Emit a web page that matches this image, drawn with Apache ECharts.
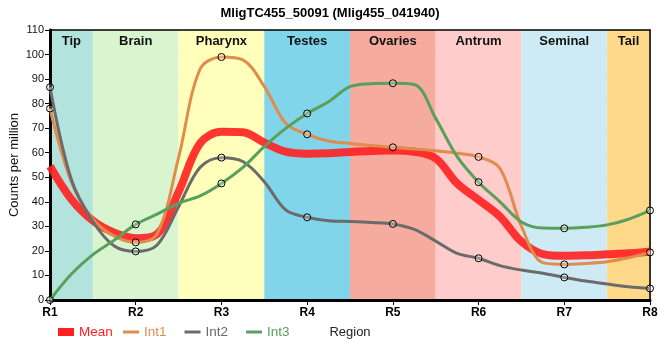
<!DOCTYPE html>
<html><head><meta charset="utf-8">
<script src="https://cdn.jsdelivr.net/npm/echarts/dist/echarts.min.js"></script>
<style>html,body{margin:0;padding:0;background:#fff}#c{width:660px;height:360px}</style>
</head><body><div id="c"></div>
<script>
const titleText = 'MligTC455_50091 (Mlig455_041940)';
const tickLabels = ['R1','R2','R3','R4','R5','R6','R7','R8'];
const bandNames = ['Tip','Brain','Pharynx','Testes','Ovaries','Antrum','Seminal','Tail'];
const bandColors = ['#b3e3dd','#d8f5d0','#ffffbb','#80d5eb','#f5ab9d','#ffcccc','#ceebf5','#ffd98a'];
// sample positions along the region axis (0 = R1 ... 7 = R8)
const positions = [0,0.25,0.5,0.75,1,1.25,1.5,1.75,2,2.25,2.5,2.75,3,3.25,3.5,3.75,4,4.25,4.5,4.75,5,5.25,5.5,5.75,6,6.25,6.5,6.75,7];
const mean = [54.5,41,32.3,27.4,25.2,26.9,44,63.8,68.5,68.3,64.1,60.4,59.6,59.8,60.3,60.7,60.9,60.4,57.7,47.5,40.8,34,23.8,18.7,18,18.2,18.6,19,19.8];
const int1 = [78,48,33,26,23.5,27,58,94,99,97.8,87,72,67.5,64.8,63.8,62.9,62.2,61.5,60.8,59.8,58.3,53.6,30,15.2,14.5,14.9,15.6,17.2,19.4];
const int2 = [86.7,49,32,22,19.8,22.4,38,54,58,56.4,48.2,36.7,33.7,32.3,32,31.6,31,28.8,24,19,17,14,12.2,10.9,9.2,7.7,6.5,5.4,4.7];
const int3 = [0,10.6,18.5,24.4,30.8,35,39.4,42.4,47.5,54,62.5,69.9,76,80.8,86.9,88.1,88.3,87.8,74,58.4,48,40,31.8,29.3,29.2,29.6,30.6,32.9,36.5];

const FONT = '"Liberation Sans", Arial, sans-serif';
const colors = {Mean:'#ff2020', Int1:'#e08c4c', Int2:'#6b6b6b', Int3:'#58a05c'};
const lastX = tickLabels.length - 1;

function pts(arr){ return positions.map((x,i)=>[x, arr[i]]); }
function markerSize(v, p){ return (positions[p.dataIndex] % 1 === 0) ? 7 : 0; }

function intSeries(name, arr, z){
  return {
    name, type:'line', data: pts(arr), smooth:0.35, z,
    showSymbol:true, showAllSymbol:true, symbol:'circle', symbolSize: markerSize,
    lineStyle:{width:3, color:colors[name]},
    itemStyle:{color:'rgba(255,255,255,0.25)', borderColor:'#000', borderWidth:1},
    emphasis:{disabled:true}
  };
}

const chart = echarts.init(document.getElementById('c'), null, {renderer:'canvas'});
chart.setOption({
  animation:false,
  textStyle:{fontFamily:FONT},
  title:{text:titleText, left:'center', top:2, textStyle:{fontSize:13, fontWeight:'bold', color:'#000', fontFamily:FONT}},
  grid:{left:50, right:10, top:30, bottom:60, containLabel:false, outerBoundsMode:'none'},
  legend:[
    {data:[{name:'Mean', textStyle:{color:colors.Mean}, itemStyle:{color:colors.Mean}}],
     left:53, top:320, icon:'rect', itemWidth:16, itemHeight:8,
     textStyle:{fontSize:13.5, fontFamily:FONT}, selectedMode:false},
    {data:['Int1','Int2','Int3'].map(n=>({name:n, textStyle:{color:colors[n]}, itemStyle:{color:colors[n], borderWidth:0}})),
     left:118, top:320, icon:'rect', itemWidth:16, itemHeight:3, itemGap:18,
     textStyle:{fontSize:13.5, fontFamily:FONT}, selectedMode:false}
  ],
  xAxis:[
    {type:'value', min:0, max:lastX, interval:1, z:1,
     axisLine:{onZero:false, lineStyle:{color:'#000', width:3}},
     axisTick:{show:true, length:5, lineStyle:{color:'#000', width:1}},
     axisLabel:{formatter:v=>tickLabels[v], fontWeight:'bold', fontSize:12, color:'#000', margin:7, fontFamily:FONT},
     splitLine:{show:true, lineStyle:{color:'#c8c8c8', width:1}},
     name:'Region', nameLocation:'middle', nameGap:26, nameMoveOverlap:false, nameTextStyle:{fontSize:13, color:'#222', fontFamily:FONT}},
    {type:'value', position:'top', min:0, max:lastX, z:1,
     axisLine:{show:true, onZero:false, lineStyle:{color:'#000', width:1.5}},
     axisTick:{show:false}, axisLabel:{show:false}, splitLine:{show:false}}
  ],
  yAxis:[
    {type:'value', min:0, max:110, interval:10, z:1,
     axisLine:{show:true, onZero:false, lineStyle:{color:'#000', width:3}},
     axisTick:{show:true, length:5, lineStyle:{color:'#000', width:1}},
     axisLabel:{fontSize:11, color:'#111', margin:6, fontFamily:FONT},
     splitLine:{show:true, lineStyle:{color:'#c8c8c8', width:1}},
     name:'Counts per million', nameLocation:'middle', nameGap:29, nameMoveOverlap:false, nameTextStyle:{fontSize:13, color:'#111', fontFamily:FONT}},
    {type:'value', position:'right', min:0, max:110, z:1,
     axisLine:{show:true, onZero:false, lineStyle:{color:'#000', width:1.5}},
     axisTick:{show:false}, axisLabel:{show:false}, splitLine:{show:false}}
  ],
  series:[
    {name:'bands', type:'line', data:[], z:0, silent:true,
     markArea:{silent:true,
       label:{show:true, position:'insideTop', distance:5, fontWeight:'bold', fontSize:13, color:'#111', fontFamily:FONT},
       data: bandNames.map((n,i)=>[
         {name:n, xAxis:Math.max(0,i-0.5), itemStyle:{color:bandColors[i]}},
         {xAxis:Math.min(lastX,i+0.5)}
       ])}},
    {name:'Mean', type:'line', data:pts(mean), smooth:0.35, z:3, showSymbol:false,
     lineStyle:{width:8, color:colors.Mean, opacity:0.9}, itemStyle:{color:colors.Mean}, emphasis:{disabled:true}},
    intSeries('Int1', int1, 4),
    intSeries('Int2', int2, 5),
    intSeries('Int3', int3, 6)
  ]
});
</script></body></html>
